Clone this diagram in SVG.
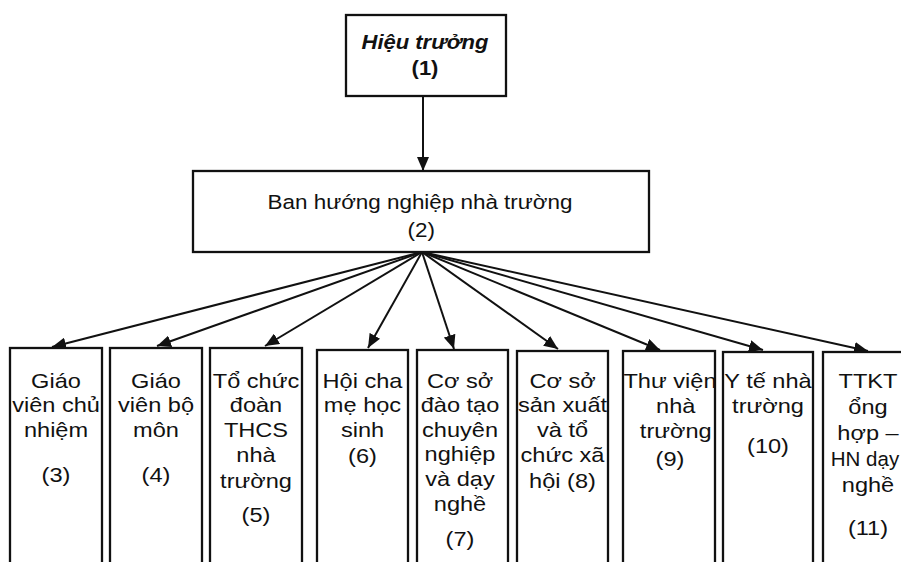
<svg xmlns="http://www.w3.org/2000/svg" width="901" height="562" viewBox="0 0 901 562">
<defs>
<style>
.box{fill:#fff;stroke:#111;stroke-width:2.3}
.t{font-family:"Liberation Sans",Arial,sans-serif;font-size:20.5px;fill:#111;text-anchor:middle}
.tm{font-family:"Liberation Sans",Arial,sans-serif;font-size:19.5px;fill:#111;text-anchor:middle}
.tb{font-family:"Liberation Sans",Arial,sans-serif;font-size:20px;font-weight:bold;fill:#111;text-anchor:middle}
.c{fill:none;stroke:#111;stroke-width:2}
</style>
<marker id="ah" markerUnits="userSpaceOnUse" markerWidth="14" markerHeight="12" viewBox="0 0 14 12" refX="14" refY="6" orient="auto">
<path d="M0,0 L14,6 L0,12 Z" fill="#111"/>
</marker>
</defs>
<rect width="901" height="562" fill="#fff"/>

<g id="connectors">
<line class="c" x1="423" y1="96" x2="423" y2="171" marker-end="url(#ah)"/>
<line class="c" x1="422" y1="252" x2="52" y2="347" marker-end="url(#ah)"/>
<line class="c" x1="422" y1="252" x2="157" y2="346" marker-end="url(#ah)"/>
<line class="c" x1="422" y1="252" x2="265" y2="346" marker-end="url(#ah)"/>
<line class="c" x1="422" y1="252" x2="368" y2="348" marker-end="url(#ah)"/>
<line class="c" x1="422" y1="252" x2="454" y2="349" marker-end="url(#ah)"/>
<line class="c" x1="422" y1="252" x2="558" y2="349" marker-end="url(#ah)"/>
<line class="c" x1="422" y1="252" x2="660" y2="350" marker-end="url(#ah)"/>
<line class="c" x1="422" y1="252" x2="763" y2="350" marker-end="url(#ah)"/>
<line class="c" x1="422" y1="252" x2="868" y2="351" marker-end="url(#ah)"/>
</g>

<g id="n1">
<rect class="box" x="346" y="15" width="160" height="81"/>
<g transform="translate(425 0) scale(1.1 1)">
<text class="tb" x="0" y="49" font-style="italic">Hiệu trưởng</text>
<text class="tb" x="0" y="75">(1)</text>
</g>
</g>

<g id="n2">
<rect class="box" x="193" y="171" width="456" height="81"/>
<g transform="translate(420 0) scale(1.15 1)">
<text class="tm" x="0" y="209">Ban hướng nghiệp nhà trường</text>
<text class="tm" x="1" y="237">(2)</text>
</g>
</g>

<g id="n3">
<rect class="box" x="10" y="348" width="92" height="230"/>
<g transform="translate(56 0) scale(1.15 1)">
<text class="t" x="0" y="388">Giáo</text>
<text class="t" x="0" y="412">viên chủ</text>
<text class="t" x="0" y="437">nhiệm</text>
<text class="t" x="0" y="482">(3)</text>
</g>
</g>

<g id="n4">
<rect class="box" x="110" y="348" width="92" height="230"/>
<g transform="translate(156 0) scale(1.15 1)">
<text class="t" x="0" y="388">Giáo</text>
<text class="t" x="0" y="412">viên bộ</text>
<text class="t" x="0" y="437">môn</text>
<text class="t" x="0" y="482">(4)</text>
</g>
</g>

<g id="n5">
<rect class="box" x="210" y="348" width="92" height="230"/>
<g transform="translate(256 0) scale(1.15 1)">
<text class="t" x="0" y="388">Tổ chức</text>
<text class="t" x="0" y="412">đoàn</text>
<text class="t" x="0" y="437">THCS</text>
<text class="t" x="0" y="462">nhà</text>
<text class="t" x="0" y="488">trường</text>
<text class="t" x="0" y="522">(5)</text>
</g>
</g>

<g id="n6">
<rect class="box" x="317" y="350" width="91" height="230"/>
<g transform="translate(362.5 0) scale(1.15 1)">
<text class="t" x="0" y="388">Hội cha</text>
<text class="t" x="0" y="412">mẹ học</text>
<text class="t" x="0" y="437">sinh</text>
<text class="t" x="0" y="463">(6)</text>
</g>
</g>

<g id="n7">
<rect class="box" x="417" y="350" width="91" height="230"/>
<g transform="translate(460 0) scale(1.15 1)">
<text class="t" x="0" y="388">Cơ sở</text>
<text class="t" x="0" y="412">đào tạo</text>
<text class="t" x="0" y="437">chuyên</text>
<text class="t" x="0" y="461">nghiệp</text>
<text class="t" x="0" y="486">và dạy</text>
<text class="t" x="0" y="511">nghề</text>
<text class="t" x="0" y="546">(7)</text>
</g>
</g>

<g id="n8">
<rect class="box" x="517" y="351" width="91" height="230"/>
<g transform="translate(562.5 0) scale(1.15 1)">
<text class="t" x="0" y="388">Cơ sở</text>
<text class="t" x="0" y="412">sản xuất</text>
<text class="t" x="0" y="437">và tổ</text>
<text class="t" x="0" y="462">chức xã</text>
<text class="t" x="0" y="488">hội (8)</text>
</g>
</g>

<g id="n9">
<rect class="box" x="623" y="351" width="92" height="230"/>
<g transform="translate(670 0) scale(1.15 1)">
<text class="t" x="0" y="388">Thư viện</text>
<text class="t" x="5" y="413">nhà</text>
<text class="t" x="5" y="438">trường</text>
<text class="t" x="0" y="466">(9)</text>
</g>
</g>

<g id="n10">
<rect class="box" x="723" y="352" width="90" height="230"/>
<g transform="translate(768 0) scale(1.15 1)">
<text class="t" x="0" y="388">Y tế nhà</text>
<text class="t" x="0" y="413">trường</text>
<text class="t" x="0" y="453">(10)</text>
</g>
</g>

<g id="n11">
<rect class="box" x="823" y="352" width="92" height="230"/>
<g transform="translate(868 0) scale(1.15 1)">
<text class="t" x="0" y="388">TTKT</text>
<text class="t" x="0" y="414">ổng</text>
<text class="t" x="0" y="440">hợp –</text>
<text class="t" x="0" y="492">nghề</text>
<text class="t" x="0" y="535">(11)</text>
</g>
<text class="t" x="865" y="466">HN dạy</text>
</g>
</svg>
